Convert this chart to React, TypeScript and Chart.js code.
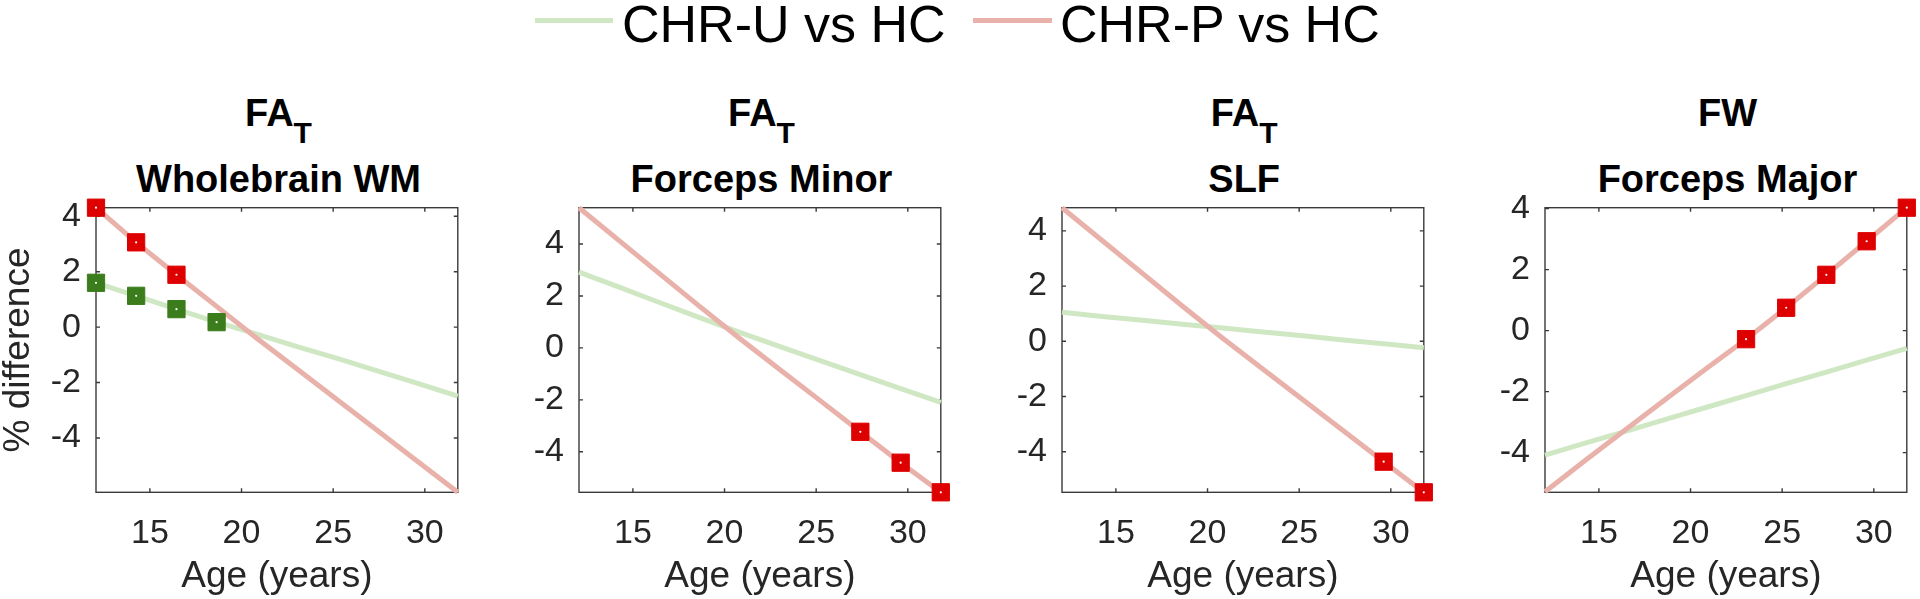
import React, { useEffect, useRef } from 'react';
import { Chart, registerables } from 'chart.js';

Chart.register(...registerables);

// ---------------- data ----------------
const AGES = [12.06, 14.25, 16.45, 18.64, 20.83, 23.03, 25.22, 27.41, 29.61, 31.8];
const X_TICKS = [15, 20, 25, 30];
const Y_TICKS = [-4, -2, 0, 2, 4];
const X_MIN = 12.06;
const X_MAX = 31.8;

const SERIES_NAMES = ['CHR-U vs HC', 'CHR-P vs HC'];

// Panel 1: FA_T Wholebrain WM
const WB_U = [1.6, 1.13, 0.65, 0.18, -0.25, -0.7, -1.13, -1.58, -2.03, -2.49];
const WB_P = [4.31, 3.06, 1.89, 0.75, -0.4, -1.51, -2.62, -3.73, -4.85, -5.96];
const WB_U_SIG = [1, 1, 1, 1, 0, 0, 0, 0, 0, 0];
const WB_P_SIG = [1, 1, 1, 0, 0, 0, 0, 0, 0, 0];
const WB_Y = [-5.96, 4.31];

// Panel 2: FA_T Forceps Minor
const FMIN_U = [2.92, 2.34, 1.75, 1.17, 0.6, 0.05, -0.49, -1.03, -1.57, -2.1];
const FMIN_P = [5.4, 4.13, 2.86, 1.6, 0.36, -0.84, -2.03, -3.23, -4.42, -5.56];
const FMIN_U_SIG = [0, 0, 0, 0, 0, 0, 0, 0, 0, 0];
const FMIN_P_SIG = [0, 0, 0, 0, 0, 0, 0, 1, 1, 1];
const FMIN_Y = [-5.56, 5.4];

// Panel 3: FA_T SLF
const SLF_U = [1.05, 0.9, 0.76, 0.62, 0.48, 0.34, 0.2, 0.05, -0.09, -0.23];
const SLF_P = [4.84, 3.65, 2.46, 1.27, 0.11, -1.01, -2.13, -3.24, -4.36, -5.47];
const SLF_U_SIG = [0, 0, 0, 0, 0, 0, 0, 0, 0, 0];
const SLF_P_SIG = [0, 0, 0, 0, 0, 0, 0, 0, 1, 1];
const SLF_Y = [-5.47, 4.84];

// Panel 4: FW Forceps Major
const FMAJ_U = [-4.08, -3.69, -3.3, -2.91, -2.52, -2.13, -1.74, -1.36, -0.97, -0.58];
const FMAJ_P = [-5.28, -4.26, -3.25, -2.25, -1.26, -0.28, 0.75, 1.83, 2.93, 4.03];
const FMAJ_U_SIG = [0, 0, 0, 0, 0, 0, 0, 0, 0, 0];
const FMAJ_P_SIG = [0, 0, 0, 0, 0, 1, 1, 1, 1, 1];
const FMAJ_Y = [-5.3, 4.03];

const PANELS = [
  { measure: 'FA', sub: 'T', region: 'Wholebrain WM', u: WB_U, p: WB_P, uSig: WB_U_SIG, pSig: WB_P_SIG, yr: WB_Y, yLabel: true },
  { measure: 'FA', sub: 'T', region: 'Forceps Minor', u: FMIN_U, p: FMIN_P, uSig: FMIN_U_SIG, pSig: FMIN_P_SIG, yr: FMIN_Y, yLabel: false },
  { measure: 'FA', sub: 'T', region: 'SLF', u: SLF_U, p: SLF_P, uSig: SLF_U_SIG, pSig: SLF_P_SIG, yr: SLF_Y, yLabel: false },
  { measure: 'FW', sub: '', region: 'Forceps Major', u: FMAJ_U, p: FMAJ_P, uSig: FMAJ_U_SIG, pSig: FMAJ_P_SIG, yr: FMAJ_Y, yLabel: false },
];

// ---------------- layout / style ----------------
const PANEL_LEFT = [96, 579, 1061.7, 1545];
const PLOT_W = 365;
const Y_AXIS_W = 96;
const RIGHT_PAD = 10;
const CANVAS_TOP = 190;
const CANVAS_H = 409;
const PLOT_TOP_PAD = 17.7;
const PLOT_H = 284.6;
const X_AXIS_H = CANVAS_H - PLOT_TOP_PAD - PLOT_H;

const FONT = "'Liberation Sans', Arial, Helvetica, sans-serif";
const GREEN_LINE = '#cfe8c3';
const RED_LINE = '#e8b2aa';
const GREEN_MARK = '#3b7d1c';
const RED_MARK = '#de0000';
const AXIS_COLOR = '#3a3a3a';
const TEXT_COLOR = '#262626';
const TICK_LEN = 4;

const boxPlugin = {
  id: 'matlabBox',
  beforeDatasetsDraw(chart: any) {
    const { ctx, chartArea, scales } = chart;
    const { left, right, top, bottom } = chartArea;
    const xs = scales.x;
    const ys = scales.y;
    ctx.save();
    ctx.strokeStyle = AXIS_COLOR;
    ctx.lineWidth = 1.4;
    ctx.strokeRect(left, top, right - left, bottom - top);
    ctx.beginPath();
    xs.ticks.forEach((t: any) => {
      const px = xs.getPixelForValue(t.value);
      ctx.moveTo(px, bottom);
      ctx.lineTo(px, bottom - TICK_LEN);
      ctx.moveTo(px, top);
      ctx.lineTo(px, top + TICK_LEN);
    });
    ys.ticks.forEach((t: any) => {
      const py = ys.getPixelForValue(t.value);
      ctx.moveTo(left, py);
      ctx.lineTo(left + TICK_LEN, py);
      ctx.moveTo(right, py);
      ctx.lineTo(right - TICK_LEN, py);
    });
    ctx.stroke();
    ctx.restore();
  },
};

function zeroPad(s: any) {
  s.paddingLeft = 0;
  s.paddingRight = 0;
  s.paddingTop = 0;
  s.paddingBottom = 0;
}

function Panel({ cfg, idx }: { cfg: any; idx: number }) {
  const ref = useRef<HTMLCanvasElement>(null);
  const width = Y_AXIS_W + PLOT_W + RIGHT_PAD;
  useEffect(() => {
    const line = (vals: number[]) => AGES.map((a, i) => ({ x: a, y: vals[i] }));
    const sig = (vals: number[], flags: number[]) =>
      AGES.map((a, i) => (flags[i] ? { x: a, y: vals[i] } : null)).filter(Boolean);
    const pSig = sig(cfg.p, cfg.pSig);
    const uSig = sig(cfg.u, cfg.uSig);
    const chart = new Chart(ref.current as HTMLCanvasElement, {
      type: 'scatter',
      data: {
        datasets: [
          { label: 'dots', data: [...pSig, ...uSig], showLine: false, pointRadius: 1.1, pointBackgroundColor: '#ffffff', pointBorderWidth: 0, clip: false } as any,
          { label: 'pMark', data: pSig, showLine: false, pointStyle: 'rect', pointRadius: 12.2, pointBackgroundColor: RED_MARK, pointBorderColor: RED_MARK, pointBorderWidth: 1, clip: false },
          { label: 'uMark', data: uSig, showLine: false, pointStyle: 'rect', pointRadius: 12.2, pointBackgroundColor: GREEN_MARK, pointBorderColor: GREEN_MARK, pointBorderWidth: 1, clip: false },
          { label: SERIES_NAMES[1], data: line(cfg.p), showLine: true, borderColor: RED_LINE, borderWidth: 5, pointRadius: 0, tension: 0, clip: false },
          { label: SERIES_NAMES[0], data: line(cfg.u), showLine: true, borderColor: GREEN_LINE, borderWidth: 5, pointRadius: 0, tension: 0, clip: false },
        ],
      },
      options: {
        responsive: false,
        animation: false,
        events: [],
        devicePixelRatio: 1,
        layout: { padding: { top: PLOT_TOP_PAD, right: RIGHT_PAD, left: 0, bottom: 0 } },
        plugins: { legend: { display: false }, tooltip: { enabled: false }, title: { display: false } },
        scales: {
          x: {
            type: 'linear',
            min: X_MIN,
            max: X_MAX,
            afterBuildTicks: (s: any) => {
              s.ticks = X_TICKS.map((v) => ({ value: v }));
            },
            afterFit: (s: any) => {
              s.height = X_AXIS_H;
              zeroPad(s);
            },
            grid: { display: false, drawTicks: false, tickLength: 0 },
            border: { display: false },
            ticks: {
              autoSkip: false,
              maxRotation: 0,
              padding: 21,
              color: TEXT_COLOR,
              font: { family: FONT, size: 34 },
              callback: (v: any) => String(v),
            },
            title: {
              display: true,
              text: 'Age (years)',
              color: TEXT_COLOR,
              font: { family: FONT, size: 37, lineHeight: 1.2 },
              padding: { top: 0, bottom: 0 },
            },
          },
          y: {
            type: 'linear',
            min: cfg.yr[0],
            max: cfg.yr[1],
            afterBuildTicks: (s: any) => {
              s.ticks = Y_TICKS.map((v) => ({ value: v }));
            },
            afterFit: (s: any) => {
              s.width = Y_AXIS_W;
              zeroPad(s);
            },
            grid: { display: false, drawTicks: false, tickLength: 0 },
            border: { display: false },
            ticks: {
              autoSkip: false,
              padding: 15,
              color: TEXT_COLOR,
              font: { family: FONT, size: 34 },
              callback: (v: any) => String(v),
            },
            title: {
              display: cfg.yLabel,
              text: '% difference',
              color: TEXT_COLOR,
              font: { family: FONT, size: 37, lineHeight: 1 },
              padding: { top: 0.5, bottom: 0 },
            },
          },
        },
      } as any,
      plugins: [boxPlugin],
    });
    return () => chart.destroy();
  }, []);
  return (
    <canvas
      ref={ref}
      width={width}
      height={CANVAS_H}
      style={{ position: 'absolute', left: PANEL_LEFT[idx] - Y_AXIS_W, top: CANVAS_TOP, width, height: CANVAS_H }}
    />
  );
}

function Title({ cfg, idx }: { cfg: any; idx: number }) {
  const center = PANEL_LEFT[idx] + PLOT_W / 2;
  const common: React.CSSProperties = {
    position: 'absolute',
    left: center - 250,
    width: 500,
    textAlign: 'center',
    fontFamily: FONT,
    fontWeight: 'bold',
    fontSize: 38,
    lineHeight: '38px',
    color: '#000',
    whiteSpace: 'nowrap',
  };
  return (
    <>
      <div style={{ ...common, top: 93.8 }}>
        {cfg.measure}
        {cfg.sub ? <span style={{ position: 'relative', top: 17, fontSize: 30 }}>{cfg.sub}</span> : null}
      </div>
      <div style={{ ...common, top: 159.8 }}>{cfg.region}</div>
    </>
  );
}

function Legend() {
  const items = [
    { name: SERIES_NAMES[0], color: GREEN_LINE, lineLeft: 535, lineW: 78, textLeft: 622 },
    { name: SERIES_NAMES[1], color: RED_LINE, lineLeft: 973, lineW: 79, textLeft: 1060 },
  ];
  return (
    <>
      {items.map((it) => (
        <React.Fragment key={it.name}>
          <div style={{ position: 'absolute', left: it.lineLeft, top: 17.5, width: it.lineW, height: 5, background: it.color }} />
          <div
            style={{
              position: 'absolute',
              left: it.textLeft,
              top: -2,
              fontFamily: FONT,
              fontSize: 52,
              lineHeight: '52px',
              color: '#000',
              whiteSpace: 'nowrap',
            }}
          >
            {it.name}
          </div>
        </React.Fragment>
      ))}
    </>
  );
}

export default function App() {
  return (
    <div style={{ position: 'absolute', left: 0, top: 0, width: 1920, height: 599, background: '#fff', overflow: 'hidden' }}>
      <Legend />
      {PANELS.map((cfg, i) => (
        <React.Fragment key={i}>
          <Title cfg={cfg} idx={i} />
          <Panel cfg={cfg} idx={i} />
        </React.Fragment>
      ))}
    </div>
  );
}
